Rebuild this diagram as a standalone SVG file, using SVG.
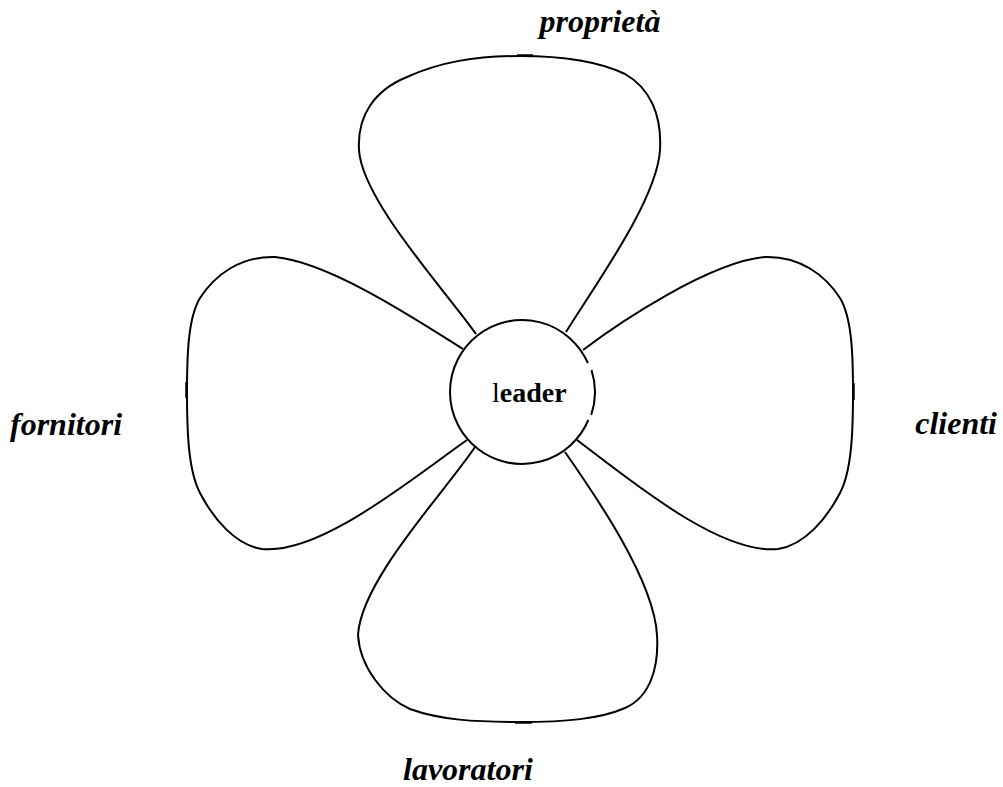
<svg xmlns="http://www.w3.org/2000/svg" width="1003" height="787" viewBox="0 0 1003 787">
<style>
.ln{fill:none;stroke:#000;stroke-width:2;stroke-linejoin:round}
.tk{fill:none;stroke:#000;stroke-width:1.5}
.lbl{font-family:"Liberation Serif","Times New Roman",serif;font-size:32px;font-weight:bold;font-style:italic;fill:#000}
.ctr{font-family:"Liberation Serif","Times New Roman",serif;font-size:28px;fill:#000}
</style>
<rect width="1003" height="787" fill="#fff"/>
<g id="connectors">
<path id="petal-top" class="ln" d="M476,334 C 445,290 362,200 359,150 C 357,115 375,90 407,77 C 440,62 475,56 520,56 C 565,56 600,62 625,74 C 650,88 662,115 660,150 C 657,200 595,285 566,332"/>
<path id="petal-bottom" class="ln" d="M475,447 C 445,492 361,580 358,635 C 360,668 385,698 410,709 C 440,720 475,722 520,722 C 565,722 600,719 625,708 C 650,697 659,668 657,635 C 654,580 595,495 565,452"/>
<path id="petal-left" class="ln" d="M463,349 C 420,322 330,262 275,257 C 240,256 215,275 200,298 C 188,318 187,355 187,392 C 187,430 188,470 200,493 C 213,518 235,545 262,549 C 320,555 410,480 467,440"/>
<path id="petal-right" class="ln" d="M583,350 C 620,322 710,262 765,257 C 800,256 825,275 840,298 C 852,318 853,355 853,392 C 853,430 852,470 840,493 C 827,518 805,545 778,549 C 720,555 630,480 577,440"/>
<path class="tk" d="M517,55 H533 M186,382 V398 M854,383 V400 M515,723 H532"/>
</g>
<g id="node-leader">
<path class="ln" d="M588.33,420 A72 72 0 1 1 587.9,363"/>
<path class="ln" d="M591.5,370 A72 72 0 0 1 591.2,415"/>
<text class="ctr" x="492" y="402"><tspan>l</tspan><tspan font-weight="bold">eader</tspan></text>
</g>
<g id="node-proprieta"><text class="lbl" x="600" y="32" text-anchor="middle">proprietà</text></g>
<g id="node-fornitori"><text class="lbl" x="10" y="435">fornitori</text></g>
<g id="node-clienti"><text class="lbl" x="997" y="434" text-anchor="end">clienti</text></g>
<g id="node-lavoratori"><text class="lbl" x="403" y="780">lavoratori</text></g>
</svg>
